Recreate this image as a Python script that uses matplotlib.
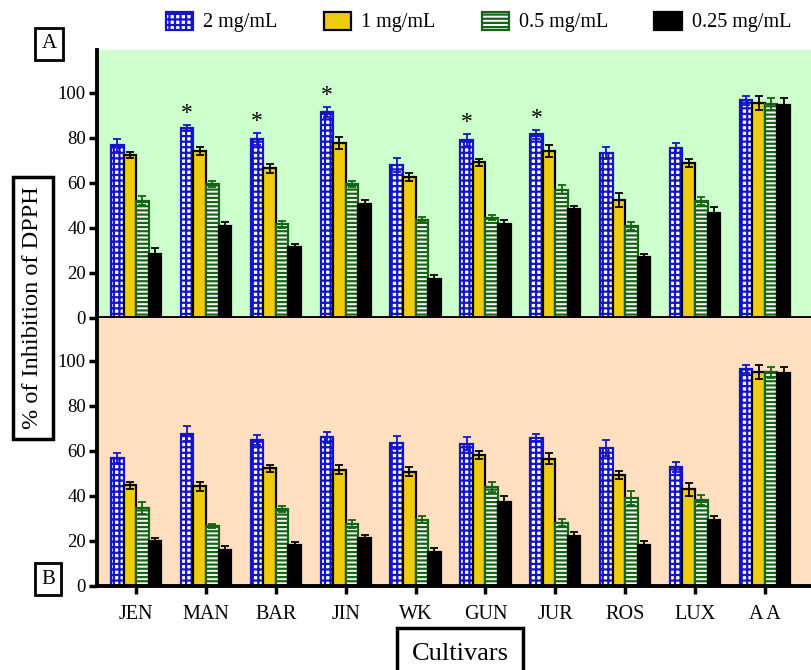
import numpy as np
import matplotlib
matplotlib.use("Agg")
import matplotlib.pyplot as plt

plt.rcParams['font.family'] = ['Liberation Serif', 'DejaVu Serif']
plt.rcParams['hatch.linewidth'] = 1.6

cultivars = ['JEN', 'MAN', 'BAR', 'JIN', 'WK', 'GUN', 'JUR', 'ROS', 'LUX', 'A A']
doses = ['2 mg/mL', '1 mg/mL', '0.5 mg/mL', '0.25 mg/mL']

# panel A
a_2 = [76.6, 84.3, 79.4, 91.3, 67.9, 79.0, 81.5, 73.3, 75.3, 96.6]
a_1 = [72.4, 74.2, 66.4, 77.6, 62.8, 69.2, 74.1, 52.6, 69.0, 95.3]
a_05 = [52.1, 59.5, 41.6, 59.5, 43.7, 44.6, 57.0, 41.0, 51.8, 95.0]
a_025 = [28.3, 40.7, 31.4, 50.7, 17.2, 41.6, 48.3, 27.0, 46.8, 94.5]
a_2_err = [2.8, 1.2, 2.7, 2.2, 3.0, 2.8, 1.9, 2.5, 2.2, 1.9]
a_1_err = [1.5, 1.9, 1.9, 2.7, 1.8, 1.6, 2.7, 3.1, 1.8, 3.1]
a_05_err = [2.0, 1.5, 1.6, 1.5, 1.2, 1.0, 1.9, 1.8, 1.8, 2.7]
a_025_err = [2.7, 1.9, 1.3, 1.9, 1.8, 1.8, 1.6, 1.3, 2.4, 3.0]
a_star = ['MAN', 'BAR', 'JIN', 'GUN', 'JUR']

# panel B
b_2 = [56.8, 67.6, 64.9, 66.1, 63.7, 63.2, 65.8, 61.2, 52.9, 96.5]
b_1 = [44.8, 44.2, 52.3, 51.7, 50.8, 58.0, 56.5, 49.3, 42.9, 95.1]
b_05 = [34.8, 26.6, 34.2, 27.6, 29.4, 44.1, 28.1, 39.0, 38.1, 94.9]
b_025 = [20.0, 15.8, 18.3, 21.3, 15.0, 37.2, 22.2, 18.3, 29.3, 94.4]
b_2_err = [2.4, 3.4, 2.2, 2.5, 2.8, 2.8, 1.6, 3.6, 2.1, 1.8]
b_1_err = [1.6, 1.8, 1.6, 2.1, 2.1, 1.8, 2.4, 1.8, 2.8, 3.1]
b_05_err = [2.7, 1.0, 1.2, 1.9, 1.5, 2.2, 1.6, 3.1, 2.2, 2.5]
b_025_err = [1.5, 2.1, 1.3, 1.3, 1.9, 2.8, 1.9, 1.9, 1.8, 2.8]

# face, edge, hatch, errorbar colour per dose
styles = [
    ('white', '#1414c8', '+++', '#1414c8'),
    ('#f0cc10', 'black', None, 'black'),
    ('white', '#146414', '----', '#146414'),
    ('black', 'black', None, 'black'),
]

fig = plt.figure(figsize=(8.11, 6.70), dpi=100)
ax_a = fig.add_axes([97 / 811, 1 - 318 / 670, 1 - 97 / 811, 268 / 670])
ax_b = fig.add_axes([97 / 811, 1 - 586 / 670, 1 - 97 / 811, 268 / 670])

x = np.arange(len(cultivars))
w = 0.18
offsets = [-1.5 * w, -0.5 * w, 0.5 * w, 1.5 * w]


def draw_panel(ax, series, errs, bg):
    ax.set_facecolor(bg)
    handles = []
    for i, (vals, err) in enumerate(zip(series, errs)):
        face, edge, hatch, ecol = styles[i]
        bars = ax.bar(x + offsets[i], vals, w, color=face, edgecolor=edge,
                      hatch=hatch, linewidth=1.6, zorder=2)
        ax.errorbar(x + offsets[i], vals, yerr=err, fmt='none', ecolor=ecol,
                    elinewidth=1.3, capsize=3, capthick=1.3, zorder=3)
        handles.append(bars)
    ax.set_xlim(-0.56, 9.66)
    ax.set_ylim(0, 119)
    ax.set_yticks([0, 20, 40, 60, 80, 100])
    ax.set_xticks(x)
    for s in ['top', 'right']:
        ax.spines[s].set_visible(False)
    for s in ['left', 'bottom']:
        ax.spines[s].set_linewidth(2.8)
    ax.tick_params(axis='both', width=2.5, length=6, labelsize=13.5, pad=2)
    return handles


handles = draw_panel(ax_a, [a_2, a_1, a_05, a_025],
                     [a_2_err, a_1_err, a_05_err, a_025_err], '#ccffcc')
draw_panel(ax_b, [b_2, b_1, b_05, b_025],
           [b_2_err, b_1_err, b_05_err, b_025_err], '#ffdfc0')
ax_a.set_xticklabels([])
ax_b.set_xticklabels(cultivars, fontsize=14.5)
ax_b.tick_params(axis='x', pad=8)

# significance marks above the 2 mg/mL bars
for name in a_star:
    i = cultivars.index(name)
    ax_a.text(x[i] + offsets[0], a_2[i] + a_2_err[i] + 0.5, '*',
              ha='center', va='bottom', fontsize=17)

fig.legend(handles, doses, loc='center', bbox_to_anchor=(0.59, 1 - 22 / 670),
           ncol=4, frameon=False, fontsize=14.5, handlelength=1.35,
           handleheight=1.0, columnspacing=2.3, handletextpad=0.5)

box = dict(boxstyle='square,pad=0.4', facecolor='white', edgecolor='black',
           linewidth=2.5)
fig.text(33 / 811, 1 - 308 / 670, '% of Inhibition of DPPH', rotation=90,
         ha='center', va='center', fontsize=17.5, bbox=box)
fig.text(460 / 811, 1 - 654 / 670, 'Cultivars', ha='center', va='center',
         fontsize=19, bbox=dict(boxstyle='square,pad=0.55', facecolor='white',
                                edgecolor='black', linewidth=2.5))
fig.text(49 / 811, 1 - 44 / 670, 'A', ha='center', va='center', fontsize=15,
         bbox=dict(boxstyle='square,pad=0.3', facecolor='white',
                   edgecolor='black', linewidth=2))
fig.text(48 / 811, 1 - 579 / 670, 'B', ha='center', va='center', fontsize=15,
         bbox=dict(boxstyle='square,pad=0.3', facecolor='white',
                   edgecolor='black', linewidth=2))

fig.savefig('out.png', dpi=100)
